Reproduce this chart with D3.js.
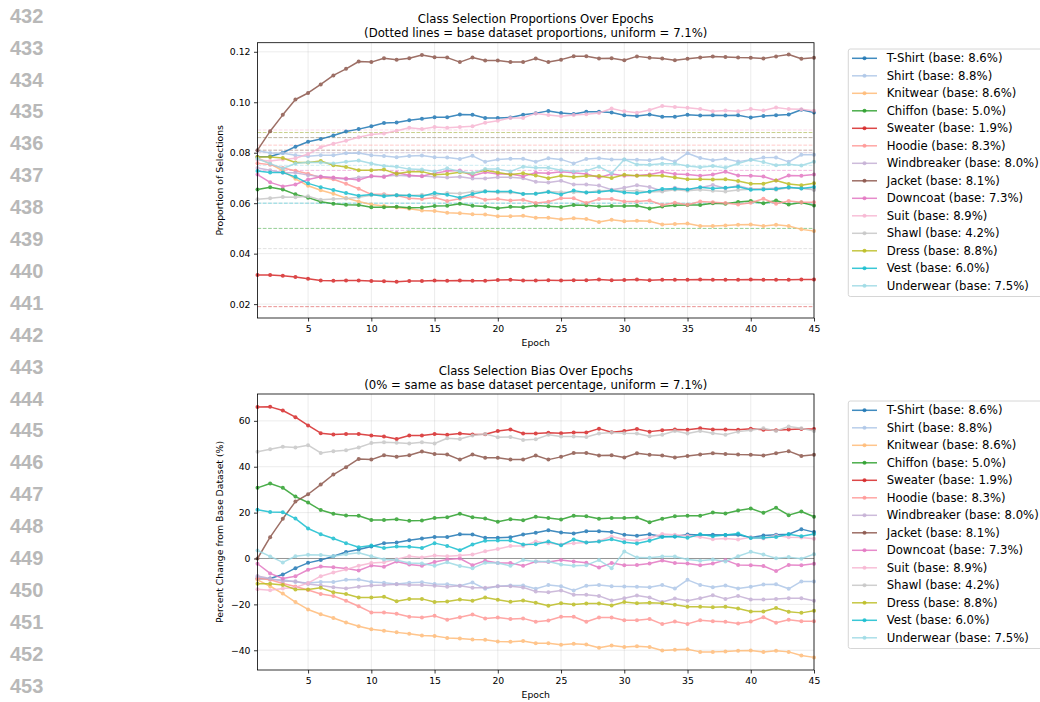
<!DOCTYPE html>
<html>
<head>
<meta charset="utf-8">
<script src="https://cdn.jsdelivr.net/npm/d3@7"></script>
<style>
  html, body { margin: 0; padding: 0; background: #ffffff; }
  svg { display: block; }
  text { font-family: "DejaVu Sans", sans-serif; }
</style>
</head>
<body>
<svg id="chart" width="1040" height="702"></svg>
<script>
// ---------------- DATA ----------------
const epochs = [1,2,3,4,5,6,7,8,9,10,11,12,13,14,15,16,17,18,19,20,21,22,23,24,25,26,27,28,29,30,31,32,33,34,35,36,37,38,39,40,41,42,43,44,45];
const categories = ["T-Shirt","Shirt","Knitwear","Chiffon","Sweater","Hoodie","Windbreaker","Jacket","Downcoat","Suit","Shawl","Dress","Vest","Underwear"];
const basePercents = [8.6, 8.8, 8.6, 5.0, 1.9, 8.3, 8.0, 8.1, 7.3, 8.9, 4.2, 8.8, 6.0, 7.5];
const colors = ["#1f77b4","#aec7e8","#ffbb78","#2ca02c","#d62728","#ff9896","#c5b0d5","#8c564b","#e377c2","#f7b6d2","#c7c7c7","#bcbd22","#17becf","#9edae5"];
const lineNumbers = ["432","433","434","435","436","437","438","439","440","441","442","443","444","445","446","447","448","449","450","451","452","453"];

// Percent change from base dataset (%), read per epoch from the reference
const biasTShirt = [-8.8,-8.7,-7.0,-4.2,-1.9,-0.7,1.0,2.8,3.9,5.2,6.7,7.0,8.0,8.7,9.4,9.4,10.6,10.5,9.0,9.0,9.3,10.5,11.2,12.3,11.3,10.9,11.9,11.9,11.6,10.3,9.9,10.6,9.6,9.6,10.5,10.2,10.3,10.2,10.3,9.2,10.0,10.3,10.6,12.8,11.5];
const biasShirt = [-8.1,-9.2,-9.3,-10.2,-10.7,-10.2,-10.2,-9.3,-9.2,-10.2,-10.6,-11.1,-10.6,-10.3,-11.1,-11.2,-11.9,-10.5,-13.2,-12.1,-11.8,-11.8,-13.2,-11.6,-12.1,-13.9,-11.9,-11.6,-12.1,-12.2,-12.3,-12.5,-11.6,-13.1,-9.3,-11.5,-12.5,-11.8,-13.1,-12.3,-11.3,-11.2,-13.2,-10.0,-10.0];
const biasKnitwear = [-9.3,-12.1,-15.3,-19.0,-22.2,-24.3,-25.9,-27.9,-29.5,-30.8,-31.5,-32.2,-32.8,-33.6,-33.8,-34.6,-34.9,-35.3,-35.4,-36.2,-36.3,-36.0,-36.9,-36.9,-37.6,-37.2,-37.5,-38.9,-37.9,-38.6,-38.3,-38.6,-40.1,-39.8,-39.6,-40.7,-40.7,-40.5,-40.2,-40.1,-40.8,-40.2,-40.7,-42.3,-43.1];
const biasChiffon = [30.8,32.7,30.8,27.0,24.4,21.1,19.5,18.7,18.6,16.8,16.8,17.1,16.4,16.6,17.7,18.0,19.5,18.0,17.4,16.0,17.1,16.7,18.2,17.6,17.0,18.6,18.4,17.3,17.7,17.7,17.9,15.8,17.3,18.4,18.6,18.6,20.0,19.6,20.9,21.8,19.9,22.1,18.9,20.5,18.2];
const biasSweater = [66.0,66.1,64.5,61.6,58.0,54.6,54.0,54.3,54.3,53.6,53.2,52.1,53.6,53.6,54.3,53.9,54.5,54.0,54.2,55.6,56.2,54.5,54.5,54.8,54.6,54.9,54.9,56.6,55.0,55.6,56.4,55.3,55.9,56.2,56.1,56.8,56.2,56.2,56.1,56.5,56.1,55.9,56.2,56.4,56.4];
const biasHoodie = [-8.6,-9.3,-10.9,-12.2,-13.7,-15.5,-16.3,-18.4,-20.8,-23.5,-23.5,-24.1,-25.4,-25.7,-25.0,-26.7,-25.6,-24.4,-26.1,-25.7,-26.4,-26.1,-27.6,-27.0,-25.4,-25.4,-27.6,-25.7,-25.7,-26.9,-26.9,-26.4,-28.6,-27.5,-28.5,-26.9,-27.3,-27.6,-28.3,-27.5,-25.6,-28.0,-26.7,-27.3,-27.3];
const biasWindbreaker = [-7.6,-8.7,-9.9,-9.9,-11.1,-11.8,-12.5,-13.1,-12.3,-11.8,-11.6,-11.2,-11.5,-11.5,-11.9,-12.3,-11.9,-12.8,-12.8,-12.1,-12.1,-12.6,-14.4,-14.7,-13.9,-15.8,-15.8,-16.3,-18.3,-17.3,-16.1,-17.0,-19.0,-17.4,-18.4,-17.3,-16.0,-17.6,-16.3,-17.9,-17.9,-17.6,-17.3,-17.3,-18.4];
const biasJacket = [0.0,9.3,17.3,24.8,28.0,32.2,36.6,39.8,43.4,43.1,45.0,44.3,45.0,46.6,45.5,45.3,43.1,45.3,43.9,43.9,43.1,43.1,44.9,43.1,44.3,46.0,46.0,44.9,45.0,44.0,45.9,45.2,44.9,44.0,44.7,45.3,45.9,45.6,45.3,45.2,44.9,45.9,46.8,44.7,45.2];
const biasDowncoat = [-2.3,-6.5,-8.7,-7.7,-4.9,-3.5,-3.8,-4.4,-5.2,-3.1,-3.6,-1.3,-2.6,-3.2,-1.5,-0.4,0.0,-2.9,-1.0,-2.0,-2.0,-3.2,-1.3,-1.5,-0.7,-1.3,-1.9,-3.9,-2.0,-2.9,-2.8,-2.2,-0.9,-2.0,-2.2,-2.9,-2.2,-0.7,-2.8,-2.9,-3.3,-5.5,-2.8,-2.9,-2.3];
const biasSuit = [-13.4,-13.8,-13.1,-12.6,-10.7,-7.7,-6.1,-4.8,-3.2,-2.0,-1.6,-0.3,1.0,0.4,1.3,1.0,1.3,1.7,3.2,4.1,5.4,5.4,7.4,6.7,6.1,6.7,7.0,7.6,9.6,8.3,7.7,8.9,10.7,10.3,9.9,9.4,8.4,8.7,8.3,9.3,8.7,10.0,9.3,9.2,8.6];
const biasShawl = [46.5,47.6,48.7,48.4,49.4,46.0,46.8,47.2,48.4,50.3,50.7,50.5,50.1,50.7,50.1,52.4,52.1,53.6,54.3,52.9,53.0,51.7,52.0,53.9,53.2,53.2,53.0,54.5,54.9,54.6,54.5,53.3,53.9,55.6,54.5,55.6,54.6,53.9,55.3,55.9,56.8,55.6,57.5,56.8,55.6];
const biasDress = [-11.0,-11.0,-11.5,-13.5,-13.5,-12.8,-14.7,-15.5,-17.0,-17.0,-16.7,-18.6,-17.7,-17.6,-19.0,-18.7,-17.9,-18.4,-17.0,-18.0,-18.9,-18.3,-19.3,-20.6,-19.5,-20.0,-19.6,-19.6,-20.5,-19.0,-19.5,-19.3,-19.5,-20.2,-21.0,-21.0,-21.2,-21.0,-21.8,-23.1,-23.1,-21.6,-23.2,-23.7,-22.8];
const biasVest = [21.2,20.3,20.2,17.4,13.1,10.6,8.7,6.7,4.9,5.7,4.6,5.2,5.1,4.6,6.7,5.5,3.6,6.1,7.7,7.8,7.8,6.1,6.2,7.4,5.8,8.3,7.0,7.4,8.4,7.1,6.5,7.7,9.4,9.6,9.0,10.6,9.7,10.2,10.9,8.9,9.0,9.4,10.6,9.7,10.7];
const biasUnderwear = [3.5,0.9,-1.7,1.0,1.6,1.5,1.0,1.9,2.5,1.0,-0.4,-0.7,-2.0,-2.2,-3.2,-1.6,-3.3,-4.2,-1.9,-2.0,-3.2,-0.7,-1.3,-1.3,-2.6,-3.2,-2.9,-0.7,-4.2,3.1,0.4,0.3,0.9,0.9,-0.4,-1.0,-0.4,-1.3,1.0,2.9,1.7,0.1,0.6,-0.1,1.9];

const topXTicks = [5,10,15,20,25,30,35,40,45];
const topYTicks = [0.02,0.04,0.06,0.08,0.10,0.12];
const botYTicks = [-40,-20,0,20,40,60];

const biasSeries = [biasTShirt,biasShirt,biasKnitwear,biasChiffon,biasSweater,biasHoodie,biasWindbreaker,biasJacket,biasDowncoat,biasSuit,biasShawl,biasDress,biasVest,biasUnderwear];

// Proportion of selections follows from each class's base share and its bias
const series = categories.map((name, i) => ({
  name,
  base: basePercents[i],
  color: colors[i],
  bias: biasSeries[i].map((v, j) => ({e: epochs[j], v})),
  prop: biasSeries[i].map((v, j) => ({e: epochs[j], v: basePercents[i] / 100 * (1 + v / 100)}))
}));

// ---------------- DRAW ----------------
const svg = d3.select("#chart");
svg.append("rect").attr("width", 1040).attr("height", 702).attr("fill", "#fff");

// line numbers on the left margin
svg.append("g").selectAll("text").data(lineNumbers).join("text")
  .attr("x", 10).attr("y", (d, i) => 22.7 + i * 31.9)
  .style("font-family", "'Liberation Sans', Arial, sans-serif")
  .style("font-weight", "bold").style("font-size", "20px")
  .attr("fill", "#b8b8b8").text(d => d);

const L = 257.5, R = 814;
const x = d3.scaleLinear().domain([1, 45]).range([L, R]);

function panel(opts) {
  const {top, bottom, domain, yTicks, yFmt, key, title1, title2, ylabel, baseLines, zeroLine, legendTop} = opts;
  const y = d3.scaleLinear().domain(domain).range([bottom, top]);
  const g = svg.append("g");

  // grid
  g.append("g").selectAll("line").data(topXTicks).join("line")
    .attr("x1", d => x(d)).attr("x2", d => x(d)).attr("y1", top).attr("y2", bottom)
    .attr("stroke", "#b0b0b0").attr("stroke-opacity", 0.3).attr("stroke-width", 0.8);
  g.append("g").selectAll("line").data(yTicks).join("line")
    .attr("x1", L).attr("x2", R).attr("y1", d => y(d)).attr("y2", d => y(d))
    .attr("stroke", "#b0b0b0").attr("stroke-opacity", 0.3).attr("stroke-width", 0.8);

  if (baseLines) {
    g.append("g").selectAll("line").data(series).join("line")
      .attr("x1", L).attr("x2", R)
      .attr("y1", d => y(d.base / 100)).attr("y2", d => y(d.base / 100))
      .attr("stroke", d => d.color).attr("stroke-opacity", 0.5)
      .attr("stroke-width", 1).attr("stroke-dasharray", "3.7,1.6");
  }
  if (zeroLine) {
    g.append("line").attr("x1", L).attr("x2", R).attr("y1", y(0)).attr("y2", y(0))
      .attr("stroke", "#808080").attr("stroke-opacity", 0.8).attr("stroke-width", 1);
  }

  const line = d3.line().x(d => x(d.e)).y(d => y(d.v));
  const sg = g.append("g").selectAll("g").data(series).join("g").attr("opacity", 0.85);
  sg.append("path").attr("d", d => line(d[key])).attr("fill", "none")
    .attr("stroke", d => d.color).attr("stroke-width", 1.5).attr("stroke-linejoin", "round");
  sg.each(function(d) {
    d3.select(this).selectAll("circle").data(d[key]).join("circle")
      .attr("cx", p => x(p.e)).attr("cy", p => y(p.v)).attr("r", 2).attr("fill", d.color);
  });

  // axes
  const xa = g.append("g").attr("transform", `translate(0,${bottom})`)
    .call(d3.axisBottom(x).tickValues(topXTicks).tickSize(3.5).tickPadding(3.5).tickFormat(d3.format("d")));
  const ya = g.append("g").attr("transform", `translate(${L},0)`)
    .call(d3.axisLeft(y).tickValues(yTicks).tickSize(3.5).tickPadding(3.5).tickFormat(yFmt));
  [xa, ya].forEach(a => {
    a.select(".domain").remove();
    a.selectAll("text").style("font-family", "'DejaVu Sans', sans-serif").style("font-size", "9.3px").attr("fill", "#000");
    a.selectAll("line").attr("stroke", "#000").attr("stroke-width", 0.8);
  });

  // spines
  g.append("rect").attr("x", L).attr("y", top).attr("width", R - L).attr("height", bottom - top)
    .attr("fill", "none").attr("stroke", "#000").attr("stroke-width", 0.8);

  // titles & labels
  const cx = (L + R) / 2;
  g.append("text").attr("x", cx).attr("y", top - 23.4).attr("dy", "0.35em").attr("text-anchor", "middle")
    .style("font-size", "11.7px").text(title1);
  g.append("text").attr("x", cx).attr("y", top - 9.4).attr("dy", "0.35em").attr("text-anchor", "middle")
    .style("font-size", "11.7px").text(title2);
  g.append("text").attr("x", cx).attr("y", bottom + 25).attr("dy", "0.35em").attr("text-anchor", "middle")
    .style("font-size", "9.3px").text("Epoch");
  g.append("text").attr("transform", `translate(220,${(top + bottom) / 2}) rotate(-90)`)
    .attr("dy", "0.35em").attr("text-anchor", "middle").style("font-size", "9.3px").text(ylabel);

  // legend
  const lg = g.append("g");
  lg.append("rect").attr("x", 848.3).attr("y", legendTop).attr("width", 260).attr("height", 247.5)
    .attr("rx", 2).attr("fill", "#fff").attr("stroke", "#cccccc").attr("stroke-width", 0.8);
  const items = lg.selectAll("g.item").data(series).join("g").attr("class", "item")
    .attr("transform", (d, i) => `translate(0,${legendTop + 9.3 + i * 17.5})`);
  items.append("line").attr("x1", 852).attr("x2", 877).attr("y1", 0).attr("y2", 0)
    .attr("stroke", d => d.color).attr("stroke-width", 1.5).attr("opacity", 0.85);
  items.append("circle").attr("cx", 864.5).attr("cy", 0).attr("r", 2).attr("fill", d => d.color).attr("opacity", 0.85);
  items.append("text").attr("x", 886.7).attr("y", 0).attr("dy", "0.35em").style("font-size", "11.7px")
    .attr("fill", "#000").text(d => `${d.name} (base: ${d.base.toFixed(1)}%)`);
}

panel({
  top: 42.7, bottom: 318, domain: [0.0145, 0.1236], yTicks: topYTicks, yFmt: d3.format(".2f"), key: "prop",
  title1: "Class Selection Proportions Over Epochs",
  title2: "(Dotted lines = base dataset proportions, uniform = 7.1%)",
  ylabel: "Proportion of Selections", baseLines: true, zeroLine: false, legendTop: 49
});
panel({
  top: 394, bottom: 670, domain: [-48.6, 71.7], yTicks: botYTicks, yFmt: d3.format("d"), key: "bias",
  title1: "Class Selection Bias Over Epochs",
  title2: "(0% = same as base dataset percentage, uniform = 7.1%)",
  ylabel: "Percent Change from Base Dataset (%)", baseLines: false, zeroLine: true, legendTop: 401
});
</script>
</body>
</html>
